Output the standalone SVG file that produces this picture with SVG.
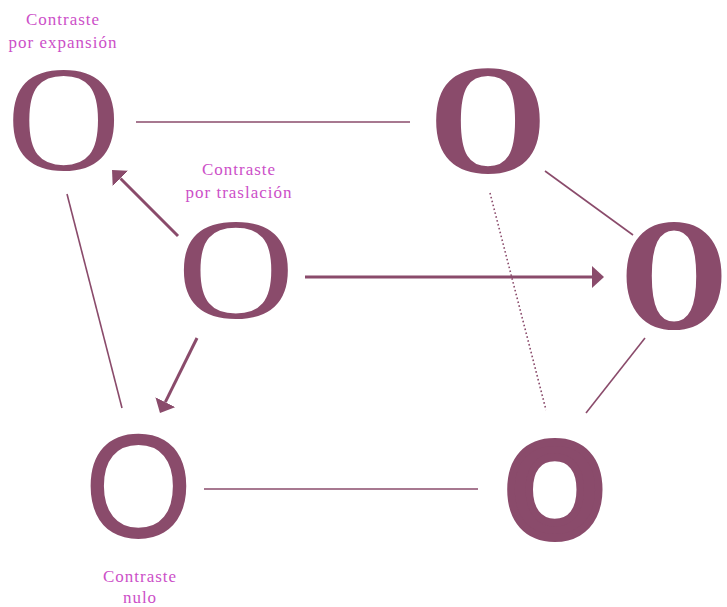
<svg xmlns="http://www.w3.org/2000/svg" width="727" height="607" viewBox="0 0 727 607">
<style>
.glyph{fill:#8a4b6b;text-anchor:middle}
.lbl{fill:#cc4fc8;font-family:"Liberation Serif",serif;font-size:17px;letter-spacing:1px;text-anchor:middle}
.ln{stroke:#8a4b6b;stroke-width:1.6;fill:none}
.dot{stroke:#8a4b6b;stroke-width:1.6;fill:none;stroke-dasharray:1.6 2.4}
.arr{stroke:#8a4b6b;stroke-width:3;fill:none;marker-end:url(#ah)}
</style>
<defs>
<marker id="ah" markerUnits="userSpaceOnUse" viewBox="0 0 12 22" refX="0" refY="11" markerWidth="12" markerHeight="22" orient="auto">
<path d="M0,0 L12,11 L0,22 z" fill="#8a4b6b"/>
</marker>
</defs>
<rect width="727" height="607" fill="#ffffff"/>
<g id="connectors">
<line class="ln" x1="136" y1="122" x2="410" y2="122"/>
<line class="ln" x1="67" y1="194" x2="122" y2="408"/>
<line class="ln" x1="204" y1="489" x2="478" y2="489"/>
<line class="ln" x1="545" y1="171" x2="633" y2="235"/>
<line class="ln" x1="645" y1="338" x2="586" y2="413"/>
<line class="dot" x1="490" y1="193" x2="546" y2="410"/>
<line class="arr" x1="178" y1="236" x2="120.5" y2="178.5"/>
<line class="arr" x1="197" y1="338" x2="165.3" y2="402.2"/>
<line class="arr" x1="305" y1="277" x2="592" y2="277"/>
</g>
<g id="expansion">
<g transform="translate(63.5,170) scale(1.05,1)"><text class="glyph" x="0" y="0" font-family="Liberation Serif, serif" font-size="150">O</text></g>
<text class="lbl" x="63" y="25">Contraste</text>
<text class="lbl" x="63" y="48">por expansión</text>
</g>
<g id="traslacion">
<g transform="translate(236,318) scale(1.12,1)"><text class="glyph" x="0" y="0" font-family="Liberation Serif, serif" font-size="145">O</text></g>
<text class="lbl" x="239" y="175">Contraste</text>
<text class="lbl" x="239" y="198">por traslación</text>
</g>
<g id="bodoni">
<g transform="translate(488,172) scale(0.97,1)"><text class="glyph" x="0" y="0" font-family="Liberation Serif, serif" font-weight="bold" font-size="157">O</text></g>
</g>
<g id="heavyserif">
<g transform="translate(674,328) scale(0.85,1)"><text class="glyph" x="0" y="0" font-family="DejaVu Serif, serif" font-weight="bold" font-size="142">O</text></g>
</g>
<g id="nulo">
<g transform="translate(138.5,538) scale(0.94,1)"><text class="glyph" x="0" y="0" font-family="Liberation Sans, sans-serif" font-size="149">O</text></g>
<text class="lbl" x="140" y="582">Contraste</text>
<text class="lbl" x="140" y="603">nulo</text>
</g>
<g id="heavysans">
<g transform="translate(555,537) scale(0.93,1)"><text class="glyph" x="0" y="0" font-family="Liberation Sans, sans-serif" font-weight="bold" font-size="136" stroke="#8a4b6b" stroke-width="8" stroke-linejoin="round">O</text></g>
</g>
</svg>
